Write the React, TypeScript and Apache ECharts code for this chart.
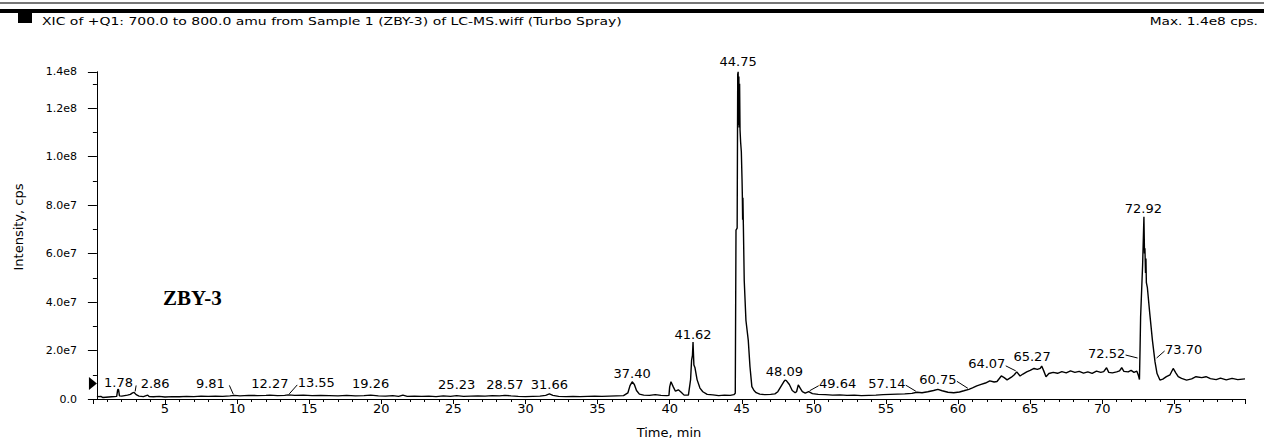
import React, { useEffect, useRef } from "react";
import * as echarts from "echarts";

// XIC trace: [time (min), intensity (×1e6 cps)]
const xicTrace: [number, number][] = [
  [0.28, 1.2], [0.4, 1.0], [0.55, 1.1], [0.7, 0.6], [0.9, 0.7], [1.1, 0.8], [1.3, 0.9], [1.5, 1.0],
  [1.65, 1.1], [1.72, 3.9], [1.78, 3.9], [1.84, 1.3], [2.0, 1.2], [2.2, 1.4], [2.4, 1.6], [2.6, 1.9],
  [2.75, 2.5], [2.86, 2.7], [3.0, 1.8], [3.2, 1.2], [3.5, 1.0], [3.8, 1.6], [3.9, 1.0], [4.2, 0.9],
  [4.6, 1.1], [5.0, 0.8], [5.5, 1.0], [6.0, 0.9], [6.5, 1.1], [7.0, 1.0], [7.5, 1.2], [8.0, 1.1],
  [8.5, 1.2], [9.0, 1.1], [9.5, 1.3], [9.81, 1.5], [10.2, 1.3], [10.8, 1.5], [11.4, 1.4], [12.0, 1.5],
  [12.27, 1.6], [12.8, 1.4], [13.3, 1.5], [13.55, 1.7], [14.0, 1.5], [14.6, 1.6], [15.2, 1.4], [15.8, 1.5],
  [16.4, 1.4], [17.0, 1.3], [17.6, 1.5], [18.2, 1.3], [18.8, 1.4], [19.26, 1.6], [19.8, 1.3], [20.3, 1.2],
  [20.8, 1.4], [21.2, 1.1], [21.5, 1.6], [21.8, 1.1], [22.3, 1.2], [22.8, 1.1], [23.3, 1.2], [23.8, 1.0],
  [24.3, 1.3], [24.8, 1.1], [25.23, 1.4], [25.7, 1.1], [26.2, 1.2], [26.7, 1.3], [27.2, 1.2], [27.7, 1.4],
  [28.2, 1.3], [28.57, 1.5], [29.0, 1.3], [29.5, 1.1], [30.0, 1.0], [30.5, 1.1], [31.0, 1.2], [31.4, 1.5],
  [31.66, 2.1], [31.9, 1.5], [32.3, 1.1], [32.8, 1.0], [33.3, 1.1], [33.8, 1.0], [34.3, 1.1], [34.8, 1.2],
  [35.3, 1.1], [35.8, 1.2], [36.3, 1.3], [36.8, 1.4], [37.1, 2.5], [37.25, 5.5], [37.4, 7.1], [37.55, 6.0],
  [37.7, 3.5], [37.9, 2.0], [38.2, 1.6], [38.6, 1.5], [39.0, 1.8], [39.4, 1.5], [39.8, 1.4], [39.95, 1.5],
  [40.0, 5.0], [40.09, 7.1], [40.25, 5.0], [40.4, 3.2], [40.6, 3.8], [40.8, 2.8], [41.0, 1.6], [41.3, 1.6],
  [41.45, 8.0], [41.52, 16.0], [41.58, 18.0], [41.62, 23.5], [41.68, 14.0], [41.75, 13.0], [41.9, 8.0],
  [42.1, 4.5], [42.3, 3.0], [42.6, 1.9], [43.0, 1.7], [43.4, 1.4], [43.8, 1.6], [44.2, 1.5], [44.45, 1.8],
  [44.55, 2.4], [44.6, 69.7], [44.68, 70.5], [44.72, 134.0], [44.75, 135.0], [44.77, 113.0], [44.8, 133.0],
  [44.82, 112.0], [44.85, 130.0], [44.88, 111.0], [44.92, 106.0], [44.97, 102.0], [45.02, 90.0],
  [45.04, 84.0], [45.06, 74.0], [45.08, 83.0], [45.11, 72.0], [45.17, 49.0], [45.29, 32.4], [45.45, 24.3],
  [45.57, 13.3], [45.7, 5.1], [45.85, 3.5], [46.0, 2.6], [46.25, 2.0], [46.6, 1.8], [47.0, 1.9],
  [47.3, 2.1], [47.5, 3.0], [47.7, 5.0], [47.9, 7.0], [48.0, 7.8], [48.09, 7.6], [48.3, 6.0], [48.5, 3.5],
  [48.7, 2.6], [48.8, 3.0], [48.92, 5.8], [49.05, 4.5], [49.2, 3.0], [49.4, 2.4], [49.64, 3.0], [49.9, 2.2],
  [50.3, 1.9], [50.8, 1.8], [51.3, 1.6], [51.8, 1.7], [52.3, 1.5], [52.8, 1.6], [53.3, 1.4], [53.8, 1.5],
  [54.3, 1.6], [54.8, 1.8], [55.3, 1.9], [55.8, 2.0], [56.3, 2.1], [56.8, 2.3], [57.14, 2.8], [57.5, 2.6],
  [57.9, 3.0], [58.3, 3.5], [58.6, 4.0], [58.9, 3.4], [59.3, 2.8], [59.7, 2.6], [60.1, 2.9], [60.4, 3.4],
  [60.75, 4.0], [61.0, 4.6], [61.3, 5.4], [61.6, 6.0], [61.9, 6.6], [62.2, 7.5], [62.5, 7.0], [62.7, 7.2],
  [63.0, 9.5], [63.2, 8.8], [63.4, 7.9], [63.7, 9.0], [63.9, 10.0], [64.07, 11.2], [64.3, 9.5], [64.5, 10.3],
  [64.76, 11.2], [65.0, 11.8], [65.27, 12.6], [65.5, 12.2], [65.7, 12.6], [65.8, 13.6], [65.95, 11.5],
  [66.1, 9.2], [66.3, 10.5], [66.6, 11.0], [66.9, 10.6], [67.2, 11.3], [67.5, 10.8], [67.8, 11.6],
  [68.1, 11.0], [68.4, 11.4], [68.7, 10.7], [69.0, 11.2], [69.3, 10.6], [69.6, 11.5], [69.9, 11.0],
  [70.1, 11.3], [70.3, 12.9], [70.45, 11.0], [70.7, 10.8], [71.0, 11.2], [71.2, 11.6], [71.35, 12.9],
  [71.5, 11.4], [71.8, 11.2], [72.0, 11.8], [72.2, 11.0], [72.4, 11.5], [72.52, 9.5], [72.58, 8.0],
  [72.62, 20.0], [72.66, 33.7], [72.8, 55.4], [72.89, 75.2], [72.93, 60.0], [72.96, 62.2], [73.0, 52.0],
  [73.03, 58.0], [73.06, 48.0], [73.13, 45.9], [73.3, 35.0], [73.48, 24.2], [73.66, 15.3], [73.8, 10.5],
  [74.0, 7.8], [74.2, 8.2], [74.45, 9.2], [74.7, 10.0], [74.92, 12.6], [75.1, 10.8], [75.27, 9.2],
  [75.5, 8.5], [75.85, 7.8], [76.2, 8.3], [76.5, 9.2], [76.9, 8.8], [77.2, 9.2], [77.5, 8.4], [77.9, 8.0],
  [78.2, 8.6], [78.6, 7.9], [79.0, 8.5], [79.4, 8.0], [79.9, 8.3],
];

// Labelled peaks: retention time (min) and label anchor intensity (×1e6 cps)
const peakTimes = [
  1.78, 2.86, 9.81, 12.27, 13.55, 19.26, 25.23, 28.57, 31.66, 37.4, 41.62, 44.75,
  48.09, 49.64, 57.14, 60.75, 64.07, 65.27, 72.52, 72.92, 73.7,
];
const peakAnchors = [
  3.9, 2.7, 1.5, 1.6, 1.7, 1.6, 1.4, 1.5, 2.1, 7.1, 23.5, 135.0,
  7.6, 3.0, 2.8, 4.0, 11.2, 12.6, 16.5, 75.2, 16.5,
];
// label text offsets from anchor, in pixels (style only)
const labelOffsets: [number, number][] = [
  [0, -7], [21, -9], [-24, -12], [0, -12], [28, -12], [0, -12], [0, -11], [0, -11], [0, -9], [0, -8],
  [0, -8], [0, -10], [-2, -9], [29, -8], [-30, -9], [-31, -10], [-30, -8], [-2, -12], [-32, -6],
  [-1, -8], [28, -10],
];

const markerIntensity = 6.4; // ×1e6, threshold marker on the y axis

const titleText = "XIC of +Q1: 700.0 to 800.0 amu from Sample 1 (ZBY-3) of LC-MS.wiff (Turbo Spray)";
const sampleName = "ZBY-3";
const xAxisName = "Time, min";
const yAxisName = "Intensity, cps";

const SANS = '"DejaVu Sans", "Liberation Sans", sans-serif';

export default function App() {
  const ref = useRef<HTMLDivElement>(null);

  useEffect(() => {
    document.body.style.margin = "0";
    const chart = echarts.init(ref.current!, null, { renderer: "svg" });
    const lineData = xicTrace.map(([t, v]) => [t, v * 1e6]);
    const labelData = peakTimes.map((t, i) => [t, peakAnchors[i] * 1e6]);
    const maxVal = Math.max(...xicTrace.map((p) => p[1])) * 1e6;
    const maxText = `Max. ${maxVal.toExponential(1).replace("e+", "e")} cps.`;

    chart.setOption({
      animation: false,
      backgroundColor: "#ffffff",
      grid: { left: 92.9, right: 19, top: 71.75, bottom: 41.5, containLabel: false },
      xAxis: {
        type: "value",
        min: 0,
        max: 79.9,
        interval: 5,
        axisLine: { show: true, onZero: false, lineStyle: { color: "#000", width: 1 } },
        axisTick: { show: true, length: 5, lineStyle: { color: "#000", width: 1 } },
        minorTick: { show: true, splitNumber: 5, length: 3, lineStyle: { color: "#000", width: 1 } },
        splitLine: { show: false },
        axisLabel: {
          formatter: (v: number) => (v > 0 && Math.abs(v % 5) < 1e-9 ? String(v) : ""),
          color: "#000",
          fontFamily: SANS,
          fontSize: 13,
          margin: 3,
        },
        name: xAxisName,
        nameLocation: "middle",
        nameGap: 27,
        nameTextStyle: { color: "#000", fontFamily: SANS, fontSize: 13 },
      },
      yAxis: {
        type: "value",
        min: 0,
        max: 1.35e8,
        interval: 2e7,
        offset: -4,
        axisLine: { show: true, lineStyle: { color: "#000", width: 1 } },
        axisTick: { show: true, length: 9, lineStyle: { color: "#000", width: 1 } },
        minorTick: { show: true, splitNumber: 2, length: 4, lineStyle: { color: "#000", width: 1 } },
        splitLine: { show: false },
        axisLabel: {
          formatter: (v: number) => (v === 0 ? "0.0" : v.toExponential(1).replace("e+", "e")),
          color: "#000",
          fontFamily: SANS,
          fontSize: 11,
          margin: 20,
        },
      },
      series: [
        {
          type: "line",
          data: lineData,
          showSymbol: false,
          symbol: "none",
          lineStyle: { color: "#000", width: 1.4 },
          z: 3,
          markPoint: {
            silent: true,
            symbol: "path://M0,0L8,6.5L0,13Z",
            symbolSize: [8, 13],
            symbolOffset: [-4, 0],
            itemStyle: { color: "#000" },
            label: { show: false },
            data: [{ coord: [xicTrace[0][0], markerIntensity * 1e6] }],
          },
        },
        {
          type: "custom",
          coordinateSystem: "cartesian2d",
          clip: false,
          silent: true,
          z: 5,
          data: labelData,
          renderItem: (params: any, api: any) => {
            const i = params.dataIndex;
            const p = api.coord([api.value(0), api.value(1)]);
            const [dx, dy] = labelOffsets[i];
            const cx = p[0] + dx;
            const cy = p[1] + dy;
            const children: any[] = [
              {
                type: "text",
                x: cx,
                y: cy,
                style: {
                  text: Number(api.value(0)).toFixed(2),
                  font: `13px ${SANS}`,
                  fill: "#000",
                  align: "center",
                  verticalAlign: "middle",
                  textAlign: "center",
                  textVerticalAlign: "middle",
                },
              },
            ];
            if (Math.abs(dx) > 10) {
              const s = Math.sign(dx);
              children.push({
                type: "line",
                shape: { x1: p[0] + s, y1: p[1] - 1, x2: cx - s * 19, y2: cy + 2 },
                style: { stroke: "#000", lineWidth: 1 },
              });
            }
            return { type: "group", children };
          },
        },
      ],
      graphic: [
        { type: "rect", silent: true, shape: { x: 0, y: 2, width: 1264, height: 2 }, style: { fill: "#777" } },
        { type: "rect", silent: true, shape: { x: 0, y: 9, width: 1264, height: 4 }, style: { fill: "#000" } },
        { type: "rect", silent: true, shape: { x: 18, y: 13, width: 14, height: 10 }, style: { fill: "#000" } },
        {
          type: "text",
          silent: true,
          x: 42,
          y: 21,
          scaleX: 1.27,
          style: {
            text: titleText,
            font: `11px ${SANS}`,
            fill: "#000",
            align: "left",
            verticalAlign: "middle",
            textAlign: "left",
            textVerticalAlign: "middle",
          },
        },
        {
          type: "text",
          silent: true,
          x: 1258,
          y: 21,
          scaleX: 1.25,
          style: {
            text: maxText,
            font: `11px ${SANS}`,
            fill: "#000",
            align: "right",
            verticalAlign: "middle",
            textAlign: "right",
            textVerticalAlign: "middle",
          },
        },
        {
          type: "text",
          silent: true,
          x: 18,
          y: 227,
          rotation: Math.PI / 2,
          style: {
            text: yAxisName,
            font: `13px ${SANS}`,
            fill: "#000",
            align: "center",
            verticalAlign: "middle",
            textAlign: "center",
            textVerticalAlign: "middle",
          },
        },
        {
          type: "text",
          silent: true,
          x: 163,
          y: 298,
          style: {
            text: sampleName,
            font: 'bold 21px "Liberation Serif", "Times New Roman", serif',
            fill: "#000",
            align: "left",
            verticalAlign: "middle",
            textAlign: "left",
            textVerticalAlign: "middle",
          },
        },
      ],
    });
    return () => chart.dispose();
  }, []);

  return <div ref={ref} style={{ width: 1264, height: 444 }} />;
}
